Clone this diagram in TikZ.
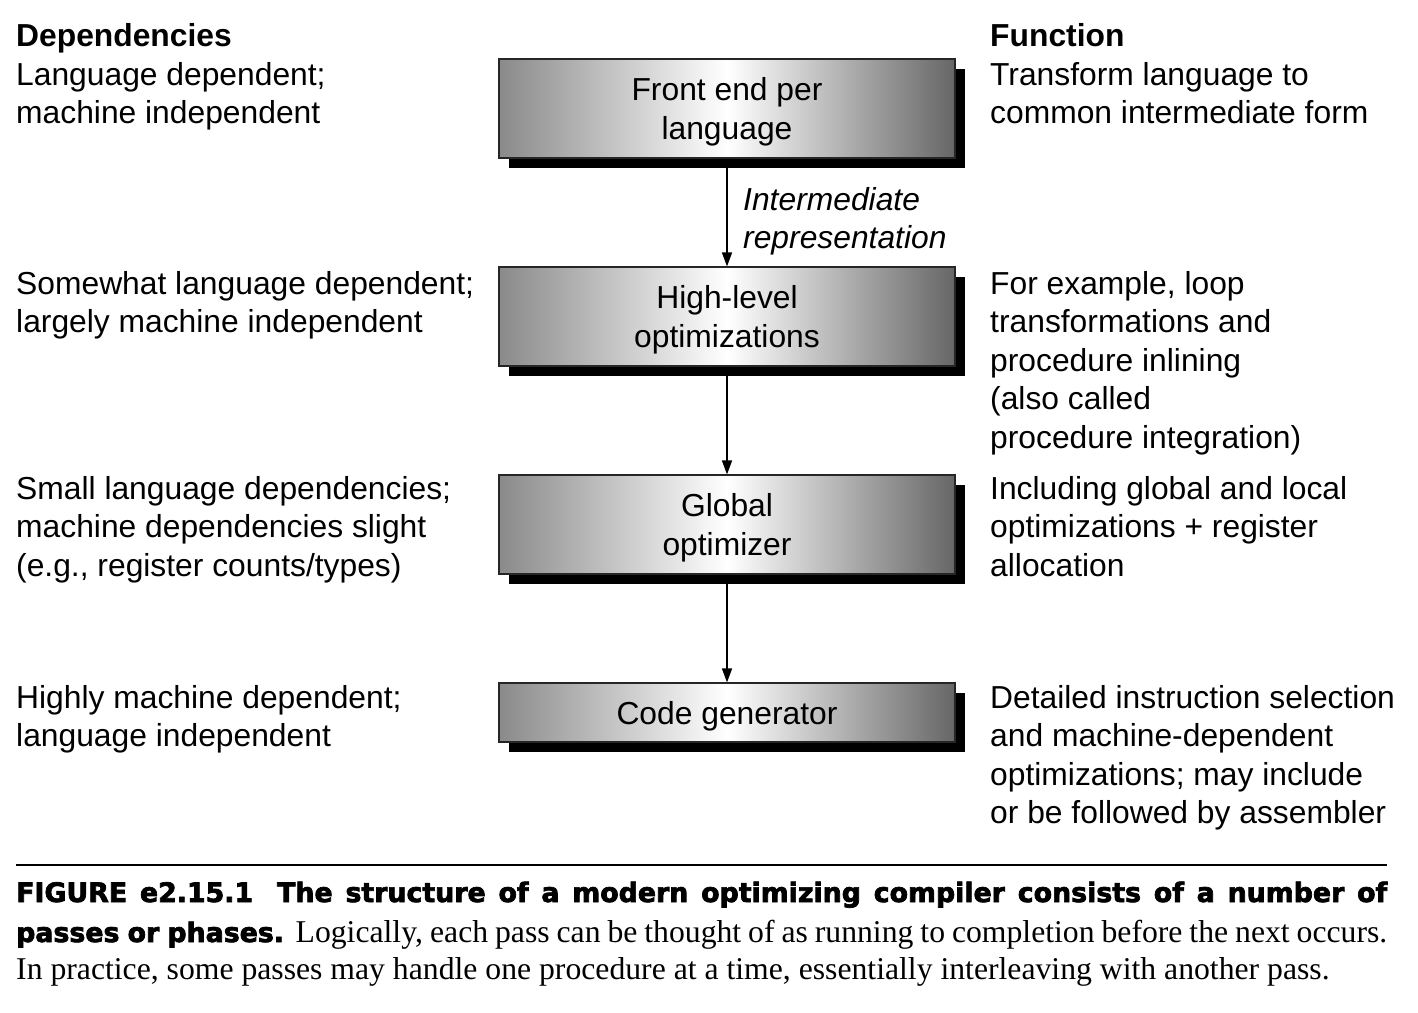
\documentclass[tikz,border=0pt]{standalone}
\usepackage{fontspec}
\setmainfont{Liberation Sans}
\newfontfamily\capserif{Liberation Serif}
\newfontfamily\capbold[FakeBold=2.6]{DejaVu Sans}
\usetikzlibrary{arrows.meta,shadows}
\newcommand\mystrut{\rule{0pt}{30pt}}
\begin{document}
\begin{tikzpicture}[x=1pt,y=-1pt,
  txt/.style={anchor=north west,inner sep=0pt,align=left,font=\fontsize{31.8}{38.5}\selectfont},
  stagebox/.style={draw=black!85,line width=1.2pt,minimum width=456pt,align=center,inner sep=0pt,
    left color=black!46,right color=black!60,middle color=white,
    font=\fontsize{31.8}{38.5}\selectfont,
    drop shadow={shadow xshift=10pt,shadow yshift=-10pt,fill=black,opacity=1}},
  flow/.style={line width=1.5pt,-{Triangle[length=14pt,width=10pt]}},
  capline/.style={anchor=base west,inner sep=0pt}]
\useasboundingbox[fill=white] (0,0) rectangle (1418,1012);

% left column
\node[txt,font=\fontsize{31.8}{38.5}\selectfont\bfseries] (dh) at (16,19) {\strut Dependencies};
\node[txt] (d1) at (16,58) {\strut Language dependent;\\machine independent};
\node[txt] (d2) at (16,267) {\strut Somewhat language dependent;\\largely machine independent};
\node[txt] (d3) at (16,472) {\strut Small language dependencies;\\machine dependencies slight\\(e.g., register counts/types)};
\node[txt] (d4) at (16,681) {\strut Highly machine dependent;\\language independent};

% right column
\node[txt,font=\fontsize{31.8}{38.5}\selectfont\bfseries] (fh) at (990,19) {\strut Function};
\node[txt] (f1) at (990,58) {\strut Transform language to\\common intermediate form};
\node[txt] (f2) at (990,267) {\strut For example, loop\\transformations and\\procedure inlining\\(also called\\procedure integration)};
\node[txt] (f3) at (990,472) {\strut Including global and local\\optimizations + register\\allocation};
\node[txt] (f4) at (990,681) {\strut Detailed instruction selection\\and machine-dependent\\optimizations; may include\\or be followed by assembler};

% stages
\node[stagebox,minimum height=99pt] (fe) at (727,108.5) {\mystrut Front end per\\language};
\node[stagebox,minimum height=99pt] (hl) at (727,316.5) {\mystrut High-level\\optimizations};
\node[stagebox,minimum height=99pt] (go) at (727,524.5) {\mystrut Global\\optimizer};
\node[stagebox,minimum height=59pt] (cg) at (727,712.5) {\mystrut Code generator};

\draw[flow] (fe.south) -- (hl.north);
\draw[flow] (hl.south) -- (go.north);
\draw[flow] (go.south) -- (cg.north);

\node[txt,font=\fontsize{31.8}{38.5}\selectfont\itshape] (ir) at (743,183) {\strut Intermediate\\representation};

% caption
\coordinate (r1) at (16,865);
\coordinate (r2) at (1387,865);
\draw[line width=2pt] (r1) -- (r2);

\node[capline] (c1) at (16,902) {\makebox[1371pt][s]{\fontsize{26.8}{30}\capbold\bfseries FIGURE e2.15.1\hspace{24pt}The structure of a modern optimizing compiler consists of a number of}};
\node[capline] (c2) at (16,942) {\makebox[1371pt][s]{{\fontsize{26.8}{30}\capbold\bfseries passes or phases.}\hspace{8pt} \fontsize{31.7}{38}\capserif Logically, each pass can be thought of as running to completion before the next occurs.}};
\node[capline] (c3) at (16,979) {\fontsize{31.7}{38}\capserif In practice, some passes may handle one procedure at a time, essentially interleaving with another pass.};
\end{tikzpicture}
\end{document}
